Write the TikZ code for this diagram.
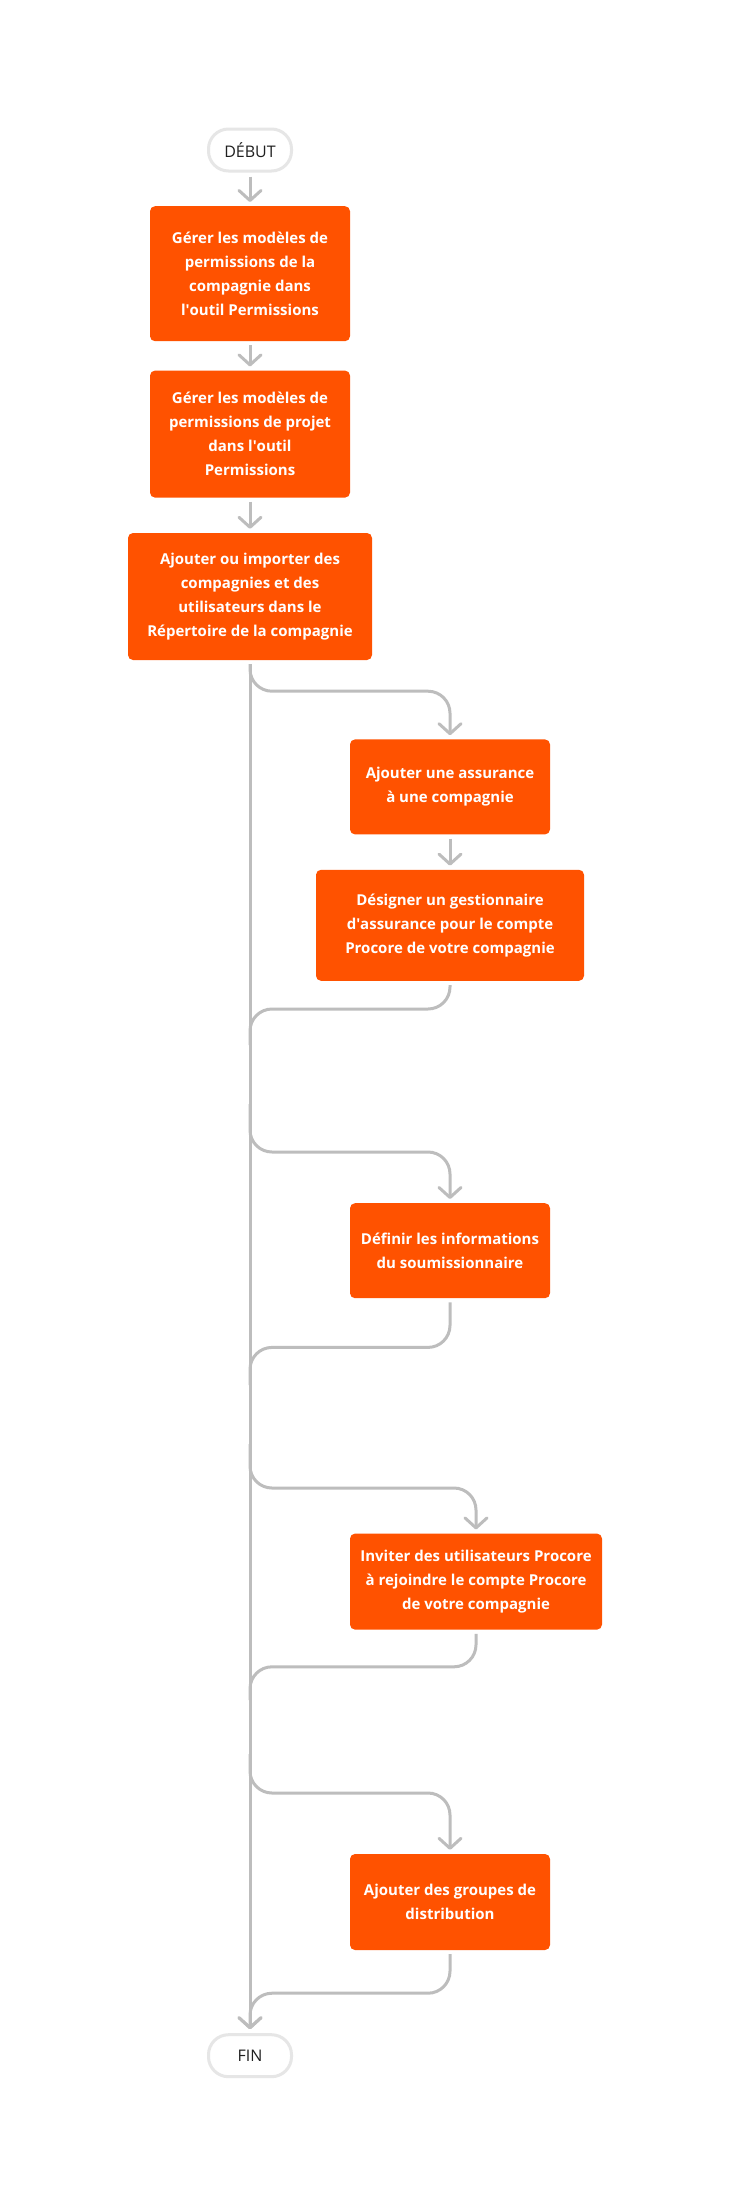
\documentclass[tikz,border=0pt]{standalone}
\usepackage{fontspec}
\setmainfont{Open Sans}
\usetikzlibrary{positioning,arrows.meta}

\definecolor{procore}{HTML}{FF5200}
\definecolor{liengris}{HTML}{BDBDBD}
\definecolor{bordgris}{HTML}{E6E6E6}

\tikzset{
  etape/.style={rectangle, rounded corners=5pt, fill=procore, text=white, inner sep=0pt,
    align=center, font=\fontsize{15}{24}\selectfont\bfseries},
  borne/.style={rectangle, rounded corners=20pt, draw=bordgris, line width=3pt, fill=white,
    text=black!88, inner sep=0pt, minimum width=83pt, minimum height=42pt,
    font=\fontsize{16}{20}\selectfont},
  lien/.style={draw=liengris, line width=3pt, rounded corners=22pt, shorten <=4pt},
  fleche/.style={lien, -{Straight Barb[length=10pt,width=22pt,round]}, shorten >=4pt},
}

\begin{document}
\begin{tikzpicture}[x=1pt, y=-1pt]

  \path [fill=white] (0,0) rectangle (730,2206);
  \useasboundingbox (0,0) rectangle (730,2206);

  \node (debut) [borne] at (250,150) {DÉBUT};
  \node (gestcie) [etape, minimum width=200pt, minimum height=135pt, below=33.5pt of debut]
    {Gérer les modèles de\\permissions de la\\compagnie dans\\l\textquotesingle outil Permissions};
  \node (gestproj) [etape, minimum width=200pt, minimum height=127pt, below=29pt of gestcie]
    {Gérer les modèles de\\permissions de projet\\dans l\textquotesingle outil\\Permissions};
  \node (ajoutcie) [etape, minimum width=244pt, minimum height=127pt, below=35pt of gestproj]
    {Ajouter ou importer des\\compagnies et des\\utilisateurs dans le\\Répertoire de la compagnie};
  \node (assurance) [etape, minimum width=200pt, minimum height=95pt, below=79pt of ajoutcie, xshift=200pt]
    {Ajouter une assurance\\à une compagnie};
  \node (gestionnaire) [etape, minimum width=268pt, minimum height=111pt, below=35pt of assurance]
    {Désigner un gestionnaire\\d\textquotesingle assurance pour le compte\\Procore de votre compagnie};
  \node (soumission) [etape, minimum width=200pt, minimum height=95pt, below=222pt of gestionnaire]
    {Définir les informations\\du soumissionnaire};
  \node (inviter) [etape, minimum width=252pt, minimum height=96pt, below=235pt of soumission, xshift=26pt]
    {Inviter des utilisateurs Procore\\à rejoindre le compte Procore\\de votre compagnie};
  \node (groupes) [etape, minimum width=200pt, minimum height=96pt, below=224pt of inviter, xshift=-26pt]
    {Ajouter des groupes de\\distribution};
  \node (fin) [borne, below=83pt of groupes, xshift=-200pt] {FIN};

  \coordinate (m1) at (250,1045);
  \coordinate (b2) at (250,1100);
  \coordinate (m2) at (250,1385);
  \coordinate (b3) at (250,1440);
  \coordinate (m3) at (250,1700);
  \coordinate (b4) at (250,1750);

  \draw [fleche] (debut) -- (gestcie);
  \draw [fleche] (gestcie) -- (gestproj);
  \draw [fleche] (gestproj) -- (ajoutcie);
  \draw [fleche] (ajoutcie) -- (fin);

  \draw [fleche] (ajoutcie.south) -- ++(0,31) -| (assurance.north);
  \draw [fleche] (assurance) -- (gestionnaire);
  \draw [lien] (gestionnaire.south) -- ++(0,28) -| (m1);

  \draw [fleche] (b2) -- ++(0,52) -| (soumission.north);
  \draw [lien] (soumission.south) -- ++(0,49) -| (m2);

  \draw [fleche] (b3) -- ++(0,48) -| (inviter.north);
  \draw [lien] (inviter.south) -- ++(0,37) -| (m3);

  \draw [fleche] (b4) -- ++(0,43) -| (groupes.north);
  \draw [fleche] (groupes.south) -- ++(0,43) -| (fin.north);

\end{tikzpicture}
\end{document}
